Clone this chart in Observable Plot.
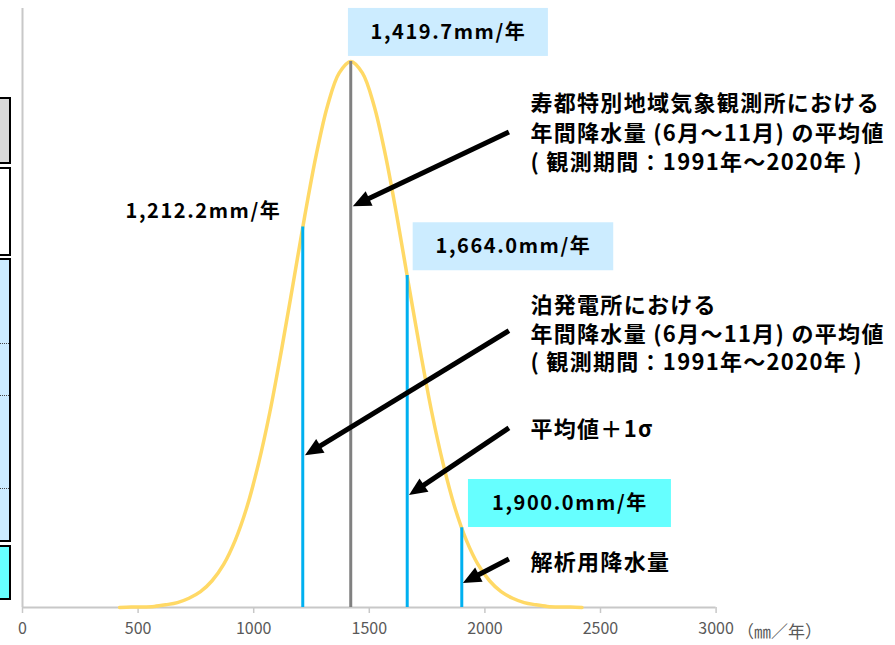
<!DOCTYPE html>
<html><head><meta charset="utf-8">
<script src="https://cdn.jsdelivr.net/npm/d3@7"></script>
<script src="https://cdn.jsdelivr.net/npm/@observablehq/plot@0.6"></script>
<style>
html,body{margin:0;padding:0;background:#fff;}
#wrap{position:relative;width:895px;height:645px;overflow:hidden;font-family:"Noto Sans CJK JP",sans-serif;}
.frag{position:absolute;left:-3px;width:14px;border:2px solid #000;box-sizing:border-box;}
.dots{position:absolute;left:0;width:9px;border-top:1.5px dotted #444;}
</style></head><body><div id="wrap"></div>
<script>
// Curve: relative frequency of annual precipitation
const curveX = [420,470,520,570,620,670,720,770,820,870,920,970,1020,1070,1120,1170,1220,1270,1320,1370,1420,
                1470,1520,1570,1620,1670,1720,1770,1820,1870,1920,1970,2020,2070,2120,2170,2220,2270,2320,2370,2420];
const curveY = [0.000,0.001,0.001,0.002,0.005,0.009,0.017,0.029,0.049,0.079,0.123,0.183,0.262,0.358,0.471,0.592,0.715,0.828,0.920,0.979,1.000,
                0.979,0.920,0.828,0.715,0.592,0.471,0.358,0.262,0.183,0.123,0.079,0.049,0.029,0.017,0.009,0.005,0.002,0.001,0.001,0.000];

// Vertical reference lines
const lineValues  = [1212.2, 1419.7, 1664.0, 1900.0];
const lineHeights = [0.697, 1.000, 0.608, 0.146];
const lineKinds   = ["tomari", "suttsu", "plus1sigma", "design"];
const valueLabels = ["1,212.2mm/年", "1,419.7mm/年", "1,664.0mm/年", "1,900.0mm/年"];

// Axis
const xTicks = [0, 500, 1000, 1500, 2000, 2500, 3000];
const unitLabel = "（㎜／年）";

// Annotation texts
const noteTexts = [
  "寿都特別地域気象観測所における",
  "年間降水量 (6月～11月) の平均値",
  "( 観測期間：1991年～2020年 )",
  "泊発電所における",
  "年間降水量 (6月～11月) の平均値",
  "( 観測期間：1991年～2020年 )",
  "平均値＋1σ",
  "解析用降水量"
];

// ---- layout (data units) ----
const noteX = 2197;
const noteY = [0.922, 0.868, 0.814, 0.553, 0.500, 0.447, 0.326, 0.082];
const labelPos = [
  {x: 782.7, y: 0.7253, box: null},
  {x: 1842.3, y: 1.0522, box: {x1: 1409.8, x2: 2274.7, y1: 1.0092, y2: 1.0971, fill: "#ccecff"}},
  {x: 2123.5, y: 0.6603, box: {x1: 1689.7, x2: 2557.3, y1: 0.6167, y2: 0.7046, fill: "#ccecff"}},
  {x: 2367.9, y: 0.1905, box: {x1: 1928.9, x2: 2806.8, y1: 0.1465, y2: 0.2344, fill: "#66ffff"}}
];
const arrows = [
  {x1: 2106, y1: 0.870, x2: 1431, y2: 0.734},
  {x1: 2106, y1: 0.506, x2: 1224, y2: 0.278},
  {x1: 2106, y1: 0.328, x2: 1674, y2: 0.205},
  {x1: 2106, y1: 0.088, x2: 1907, y2: 0.044}
];

const curve = curveX.map((x, i) => ({x, y: curveY[i]}));
const vlines = lineValues.map((v, i) => ({v, h: lineHeights[i], kind: lineKinds[i]}));
const labels = valueLabels.map((t, i) => ({t, ...labelPos[i]}));
const boxes = labels.filter(d => d.box).map(d => d.box);
const notes = noteTexts.map((t, i) => ({t, x: noteX, y: noteY[i]}));
const lineColor = k => k === "suttsu" ? "#808080" : "#00b0f0";

const plot = Plot.plot({
  width: 895, height: 645,
  marginLeft: 22, marginRight: 179.4, marginTop: 8, marginBottom: 38,
  style: {fontFamily: '"Noto Sans CJK JP", sans-serif', background: "#fff"},
  x: {domain: [0, 3000]},
  y: {domain: [0, 1.097], axis: null},
  marks: [
    Plot.ruleX([0], {stroke: "#c8c8c8", strokeWidth: 2}),
    Plot.ruleY([0], {stroke: "#c8c8c8", strokeWidth: 2}),
    Plot.axisX({ticks: xTicks, tickFormat: d => String(d), tickSize: 6, tickPadding: 9,
                stroke: "#c8c8c8", strokeWidth: 1.5, fill: "#595959", fontSize: 16, label: null}),
    Plot.text([unitLabel], {x: 3000, y: 0, dx: 21, dy: 25, text: d => d, textAnchor: "start",
                fill: "#595959", fontSize: 17}),
    Plot.line(curve, {x: "x", y: "y", stroke: "#ffd966", strokeWidth: 3.5, curve: "catmull-rom"}),
    Plot.ruleX(vlines, {x: "v", y1: 0, y2: "h", stroke: d => lineColor(d.kind), strokeWidth: 3}),
    Plot.rect(boxes, {x1: "x1", x2: "x2", y1: "y1", y2: "y2", fill: "fill"}),
    Plot.text(labels, {x: "x", y: "y", text: "t", fontSize: 20, fontWeight: "bold", fill: "#000",
                       textAnchor: "middle"}),
    Plot.text(notes, {x: "x", y: "y", text: "t", fontSize: 22, fontWeight: "bold", fill: "#000",
                      textAnchor: "start"})
  ]
});

const svg = plot.tagName.toLowerCase() === "svg" ? plot : plot.querySelector("svg");
document.getElementById("wrap").appendChild(plot);

// letter spacing to match the wide gothic face of the original
const sel = d3.select(svg).selectAll("text");
sel.filter(function() { return noteTexts.includes(this.textContent); }).style("letter-spacing", "1.3px");
sel.filter(function() { return valueLabels.includes(this.textContent); }).style("letter-spacing", "1.6px");

// arrows drawn with Plot's scales
const sx = plot.scale("x"), sy = plot.scale("y");
const ga = d3.select(svg).append("g").attr("aria-label", "arrows");
for (const a of arrows) {
  const tx = sx.apply(a.x1), ty = sy.apply(a.y1), hx = sx.apply(a.x2), hy = sy.apply(a.y2);
  const dx = hx - tx, dy = hy - ty, len = Math.hypot(dx, dy);
  const ux = dx / len, uy = dy / len, nx = -uy, ny = ux;
  const L = 18, W = 8;
  const bx = hx - ux * L, by = hy - uy * L;
  ga.append("line").attr("x1", tx).attr("y1", ty).attr("x2", bx + ux * 2).attr("y2", by + uy * 2)
    .attr("stroke", "#000").attr("stroke-width", 5);
  ga.append("path").attr("d", `M${hx},${hy}L${bx + nx * W},${by + ny * W}L${bx - nx * W},${by - ny * W}Z`)
    .attr("fill", "#000");
}

// left-edge fragment of neighbouring table
const wrap = document.getElementById("wrap");
const frags = [
  {top: 97, h: 67, bg: "#d9d9d9"},
  {top: 167, h: 89, bg: "#ffffff"},
  {top: 258, h: 284, bg: "#ccecff"},
  {top: 545, h: 55, bg: "#66ffff"}
];
for (const f of frags) {
  const d = document.createElement("div");
  d.className = "frag";
  d.style.top = f.top + "px"; d.style.height = f.h + "px"; d.style.background = f.bg;
  wrap.appendChild(d);
}
for (const t of [343, 395, 488]) {
  const d = document.createElement("div");
  d.className = "dots"; d.style.top = t + "px";
  wrap.appendChild(d);
}
</script></body></html>
